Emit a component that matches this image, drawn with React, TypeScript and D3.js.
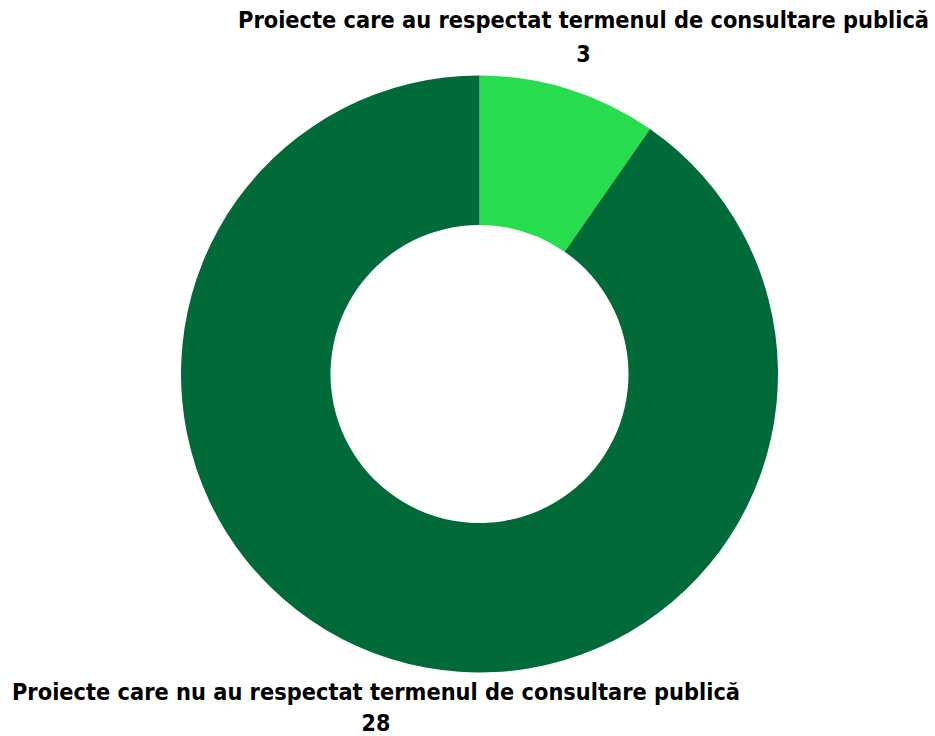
import { useEffect, useRef } from 'react';
import * as d3 from 'd3';

const categories = [
  'Proiecte care au respectat termenul de consultare publică',
  'Proiecte care nu au respectat termenul de consultare publică',
];
const values = [3, 28];
const colors = ['#27dd4d', '#006b38'];

export default function App() {
  const svgRef = useRef<SVGSVGElement>(null);

  useEffect(() => {
    if (!svgRef.current) return;
    const width = 935;
    const height = 736;
    const cx = 479.5;
    const cy = 374;
    const outerR = 298.5;
    const innerR = 149;

    const svg = d3.select(svgRef.current).attr('width', width).attr('height', height);
    svg.selectAll('*').remove();

    const pie = d3
      .pie<number>()
      .sort(null)
      .value((d) => d);
    const arc = d3.arc<d3.PieArcDatum<number>>().innerRadius(innerR).outerRadius(outerR);

    const g = svg.append('g').attr('transform', `translate(${cx},${cy})`);
    g.selectAll('path')
      .data(pie(values))
      .enter()
      .append('path')
      .attr('d', arc)
      .attr('fill', (_, i) => colors[i]);

    // labels: [center x, baseline of name, baseline of value, name width]
    const labelPos = [
      { x: 583.5, y1: 28, y2: 62, w: 691 },
      { x: 376, y1: 700, y2: 731, w: 728 },
    ];

    categories.forEach((c, i) => {
      const p = labelPos[i];
      const t = svg
        .append('text')
        .attr('x', p.x)
        .attr('y', p.y1)
        .attr('text-anchor', 'middle')
        .attr('font-family', '"Liberation Sans Narrow", "DejaVu Sans Condensed", "Liberation Sans", sans-serif')
        .attr('font-weight', 'bold')
        .attr('font-size', 23)
        .attr('fill', '#000')
        .attr('textLength', p.w)
        .attr('lengthAdjust', 'spacingAndGlyphs')
        .text(c);
      void t;
      svg
        .append('text')
        .attr('x', p.x)
        .attr('y', p.y2)
        .attr('text-anchor', 'middle')
        .attr('font-family', '"Liberation Sans Narrow", "DejaVu Sans Condensed", "Liberation Sans", sans-serif')
        .attr('font-weight', 'bold')
        .attr('font-size', 23)
        .attr('fill', '#000')
        .text(values[i]);
    });
  }, []);

  return <svg ref={svgRef} style={{ position: 'absolute', left: 0, top: 0 }} />;
}
